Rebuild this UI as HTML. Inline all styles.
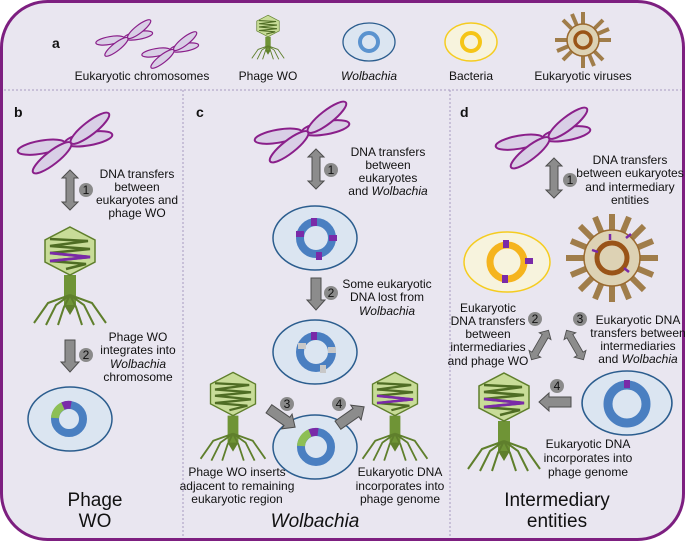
<!DOCTYPE html>
<html><head><meta charset="utf-8"><style>
html,body{margin:0;padding:0;background:#fff;}
svg{display:block;font-family:"Liberation Sans",Arial,sans-serif;}
.t{font-size:12px;fill:#111;text-anchor:middle;}
.b{font-size:14px;font-weight:bold;fill:#111;}
.big{font-size:19px;fill:#111;text-anchor:middle;}
.bd circle{fill:#8a8a8a;}
</style></head><body>
<svg width="685" height="542" viewBox="0 0 685 542">
<defs>
<g id="arm" fill="#d9cfe6" stroke="#8a1f8a" stroke-width="2">
 <ellipse cx="-24" cy="0" rx="24" ry="6.5"/>
 <ellipse cx="24" cy="0" rx="24" ry="6.5"/>
</g>
<g id="chr">
 <use href="#arm" transform="translate(-3,0) rotate(-10)"/>
 <use href="#arm" transform="translate(3,0) rotate(-38)"/>
</g>
<g id="legs" stroke="#5f7f2c" stroke-width="2" fill="none">
 <path d="M0,44 L-22,52 L-36,72 M0,44 L-14,54 L-24,74 M0,44 L-6,56 L-12,74 M0,44 L22,52 L36,72 M0,44 L14,54 L24,74 M0,44 L6,56 L12,74"/>
</g>
<g id="phage">
 <rect x="-6" y="24" width="12" height="32" fill="#6f9436"/>
 <path d="M-6,54 L6,54 L0,64Z" fill="#5f7f2c"/>
 <use href="#legs"/>
 <polygon points="0,-24 25,-11 25,11 0,24 -25,11 -25,-11" fill="#c8dc98" stroke="#5f7f2c" stroke-width="1.5"/>
 <path d="M-20,-12 L18,-10 L-20,-5 L20,-2 L-20,2 L20,6 L-20,10 L16,13 L-4,18" stroke="#4f6d24" stroke-width="2.5" fill="none"/>
</g>
<g id="phageP">
 <use href="#phage"/>
 <path d="M-20,2 L20,6 L-20,10" stroke="#7a2aa8" stroke-width="2.8" fill="none"/>
</g>
<g id="dbl"><path d="M0,-20 L8,-12 L4,-12 L4,12 L8,12 L0,20 L-8,12 L-4,12 L-4,-12 L-8,-12Z" fill="#8c8c8c" stroke="#4d4d4d" stroke-width="1"/></g>
<g id="sgl"><path d="M-5,-16 L5,-16 L5,6 L9,6 L0,16 L-9,6 L-5,6Z" fill="#8c8c8c" stroke="#4d4d4d" stroke-width="1"/></g>
<g id="wol"><ellipse cx="0" cy="0" rx="42" ry="32" fill="#dbe5f1" stroke="#2b5d8e" stroke-width="1.5"/></g>
</defs>

<rect x="1.5" y="1.5" width="682" height="538" rx="46" ry="46" fill="#e9e6f0" stroke="#7d1f80" stroke-width="3"/>
<g stroke="#a79ac0" stroke-width="1" stroke-dasharray="2,2">
 <line x1="4" y1="90" x2="681" y2="90"/>
 <line x1="183" y1="90" x2="183" y2="538"/>
 <line x1="450" y1="90" x2="450" y2="538"/>
</g>

<!-- a -->
<text class="b" x="52" y="48">a</text>
<use href="#chr" transform="translate(126,38) scale(0.6)"/>
<use href="#chr" transform="translate(172,50) scale(0.6)"/>
<text class="t" x="142" y="80">Eukaryotic chromosomes</text>
<use href="#phage" transform="translate(268,26) scale(0.45)"/>
<text class="t" x="268" y="80">Phage WO</text>
<ellipse cx="369" cy="42" rx="26" ry="19" fill="#dbe5f1" stroke="#2b5d8e" stroke-width="1.3"/>
<circle cx="369" cy="42" r="9" fill="none" stroke="#5b93cf" stroke-width="4"/>
<text class="t" x="369" y="80" font-style="italic">Wolbachia</text>
<ellipse cx="471" cy="42" rx="26" ry="19" fill="#f7f3dd" stroke="#f5cc20" stroke-width="1.5"/>
<circle cx="471" cy="42" r="9" fill="none" stroke="#f5c518" stroke-width="4"/>
<text class="t" x="471" y="80">Bacteria</text>
<g transform="translate(583,40)">
 <g stroke="#a07d4a" stroke-width="4">
  <line x1="0" y1="-28" x2="0" y2="28"/><line x1="-28" y1="0" x2="28" y2="0"/>
  <line x1="-20" y1="-20" x2="20" y2="20"/><line x1="-20" y1="20" x2="20" y2="-20"/>
  <line x1="-11" y1="-26" x2="11" y2="26"/><line x1="-26" y1="11" x2="26" y2="-11"/>
 </g>
 <circle r="16" fill="#ddd2b4" stroke="#9a6a30" stroke-width="1.5"/>
 <circle r="8" fill="none" stroke="#9a5418" stroke-width="3.5"/>
</g>
<text class="t" x="583" y="80">Eukaryotic viruses</text>

<!-- b -->
<text class="b" x="14" y="117">b</text>
<use href="#chr" transform="translate(68,143)"/>
<use href="#dbl" transform="translate(70,190)"/>
<g class="bd"><circle cx="86" cy="190" r="7"/></g><text class="t" x="86" y="194" font-size="10">1</text>
<text class="t" x="137" y="178">DNA transfers</text>
<text class="t" x="137" y="191">between</text>
<text class="t" x="137" y="204">eukaryotes and</text>
<text class="t" x="137" y="217">phage WO</text>
<use href="#phageP" transform="translate(70,251)"/>
<use href="#sgl" transform="translate(70,356)"/>
<g class="bd"><circle cx="86" cy="355" r="7"/></g><text class="t" x="86" y="359" font-size="10">2</text>
<text class="t" x="138" y="341">Phage WO</text>
<text class="t" x="138" y="354">integrates into</text>
<text class="t" x="138" y="368" font-style="italic">Wolbachia</text>
<text class="t" x="138" y="381">chromosome</text>
<use href="#wol" transform="translate(70,419)"/>
<circle cx="69" cy="419" r="14" fill="none" stroke="#4a7fc1" stroke-width="8"/>
<path d="M55,418 A14,14 0 0 1 63,406" fill="none" stroke="#8dbf55" stroke-width="8"/>
<path d="M63,406 A14,14 0 0 1 71,405" fill="none" stroke="#7a2aa8" stroke-width="8"/>
<text class="big" x="95" y="506">Phage</text>
<text class="big" x="95" y="527">WO</text>

<!-- c -->
<text class="b" x="196" y="117">c</text>
<use href="#chr" transform="translate(305,132)"/>
<use href="#dbl" transform="translate(316,169)"/>
<g class="bd"><circle cx="331" cy="170" r="7"/></g><text class="t" x="331" y="174" font-size="10">1</text>
<text class="t" x="388" y="156">DNA transfers</text>
<text class="t" x="388" y="169">between</text>
<text class="t" x="388" y="182">eukaryotes</text>
<text class="t" x="388" y="195">and <tspan font-style="italic">Wolbachia</tspan></text>
<use href="#wol" transform="translate(315,238)"/>
<circle cx="316" cy="238" r="16" fill="none" stroke="#4a7fc1" stroke-width="8"/>
<g fill="#7a2aa8"><rect x="311" y="218" width="6" height="8"/><rect x="296" y="231" width="8" height="6"/><rect x="329" y="235" width="8" height="6"/><rect x="316" y="252" width="6" height="8"/></g>
<use href="#sgl" transform="translate(316,294)"/>
<g class="bd"><circle cx="331" cy="293" r="7"/></g><text class="t" x="331" y="297" font-size="10">2</text>
<text class="t" x="387" y="288">Some eukaryotic</text>
<text class="t" x="387" y="301">DNA lost from</text>
<text class="t" x="387" y="315" font-style="italic">Wolbachia</text>
<use href="#wol" transform="translate(315,352)"/>
<circle cx="316" cy="352" r="16" fill="none" stroke="#4a7fc1" stroke-width="8"/>
<g fill="#c8c8c8"><rect x="298" y="343" width="8" height="6"/><rect x="328" y="347" width="8" height="6"/><rect x="320" y="365" width="6" height="8"/></g>
<rect x="311" y="332" width="6" height="8" fill="#7a2aa8"/>
<use href="#wol" transform="translate(315,447)"/>
<circle cx="316" cy="447" r="15" fill="none" stroke="#4a7fc1" stroke-width="8"/>
<path d="M301,446 A15,15 0 0 1 310,433" fill="none" stroke="#8dbf55" stroke-width="8"/>
<path d="M310,433 A15,15 0 0 1 318,432" fill="none" stroke="#7a2aa8" stroke-width="8"/>
<use href="#phage" transform="translate(233,394) scale(0.9)"/>
<use href="#phageP" transform="translate(395,394) scale(0.9)"/>
<use href="#sgl" transform="translate(282,418) rotate(-55)"/>
<use href="#sgl" transform="translate(351,416) rotate(-125)"/>
<g class="bd"><circle cx="287" cy="404" r="7"/><circle cx="339" cy="404" r="7"/></g>
<text class="t" x="287" y="408" font-size="10">3</text><text class="t" x="339" y="408" font-size="10">4</text>
<text class="t" x="237" y="476">Phage WO inserts</text>
<text class="t" x="237" y="490">adjacent to remaining</text>
<text class="t" x="237" y="503">eukaryotic region</text>
<text class="t" x="400" y="476">Eukaryotic DNA</text>
<text class="t" x="400" y="490">incorporates into</text>
<text class="t" x="400" y="503">phage genome</text>
<text class="big" x="315" y="527" font-style="italic">Wolbachia</text>

<!-- d -->
<text class="b" x="460" y="117">d</text>
<use href="#chr" transform="translate(546,138)"/>
<use href="#dbl" transform="translate(554,178)"/>
<g class="bd"><circle cx="570" cy="180" r="7"/></g><text class="t" x="570" y="184" font-size="10">1</text>
<text class="t" x="630" y="164">DNA transfers</text>
<text class="t" x="630" y="177">between eukaryotes</text>
<text class="t" x="630" y="191">and intermediary</text>
<text class="t" x="630" y="204">entities</text>
<ellipse cx="507" cy="262" rx="43" ry="30" fill="#f7f3dd" stroke="#f5cc20" stroke-width="1.5"/>
<circle cx="507" cy="262" r="17" fill="none" stroke="#f5b41e" stroke-width="7"/>
<g fill="#7a2aa8"><rect x="503" y="240" width="6" height="8"/><rect x="525" y="258" width="8" height="6"/><rect x="502" y="275" width="6" height="8"/></g>
<g transform="translate(612,258)">
 <g stroke="#a07d4a" stroke-width="6">
  <line x1="0" y1="-44" x2="0" y2="44"/><line x1="-46" y1="0" x2="46" y2="0"/>
  <line x1="-32" y1="-32" x2="32" y2="32"/><line x1="-32" y1="32" x2="32" y2="-32"/>
  <line x1="-17" y1="-41" x2="17" y2="41"/><line x1="-41" y1="17" x2="41" y2="-17"/>
  <line x1="17" y1="-41" x2="-17" y2="41"/><line x1="41" y1="17" x2="-41" y2="-17"/>
 </g>
 <circle r="28" fill="#ddd2b4" stroke="#9a6a30" stroke-width="1.5"/>
 <circle r="15" fill="none" stroke="#9a5418" stroke-width="5"/>
 <g stroke="#7a2aa8" stroke-width="2.5"><line x1="-2" y1="-24" x2="-2" y2="-18"/><line x1="14" y1="-20" x2="19" y2="-24"/><line x1="-20" y1="-8" x2="-14" y2="-6"/><line x1="12" y1="10" x2="17" y2="14"/></g>
</g>
<text class="t" x="488" y="312">Eukaryotic</text>
<text class="t" x="488" y="325">DNA transfers</text>
<text class="t" x="488" y="338">between</text>
<text class="t" x="488" y="351">intermediaries</text>
<text class="t" x="488" y="365">and phage WO</text>
<g class="bd"><circle cx="535" cy="319" r="7"/><circle cx="580" cy="319" r="7"/><circle cx="557" cy="386" r="7"/></g>
<text class="t" x="535" y="323" font-size="10">2</text><text class="t" x="580" y="323" font-size="10">3</text><text class="t" x="557" y="390" font-size="10">4</text>
<use href="#dbl" transform="translate(540,345) rotate(30) scale(0.85)"/>
<use href="#dbl" transform="translate(575,345) rotate(-30) scale(0.85)"/>
<text class="t" x="638" y="324">Eukaryotic DNA</text>
<text class="t" x="638" y="337">transfers between</text>
<text class="t" x="638" y="350">intermediaries</text>
<text class="t" x="638" y="363">and <tspan font-style="italic">Wolbachia</tspan></text>
<use href="#phageP" transform="translate(504,397)"/>
<use href="#sgl" transform="translate(555,402) rotate(90)"/>
<use href="#wol" transform="translate(627,403) scale(1.07,1)"/>
<circle cx="627" cy="404" r="19" fill="none" stroke="#4a7fc1" stroke-width="9"/>
<rect x="624" y="380" width="6" height="8" fill="#7a2aa8"/>
<text class="t" x="588" y="448">Eukaryotic DNA</text>
<text class="t" x="588" y="462">incorporates into</text>
<text class="t" x="588" y="476">phage genome</text>
<text class="big" x="557" y="506">Intermediary</text>
<text class="big" x="557" y="527">entities</text>
</svg>
</body></html>
